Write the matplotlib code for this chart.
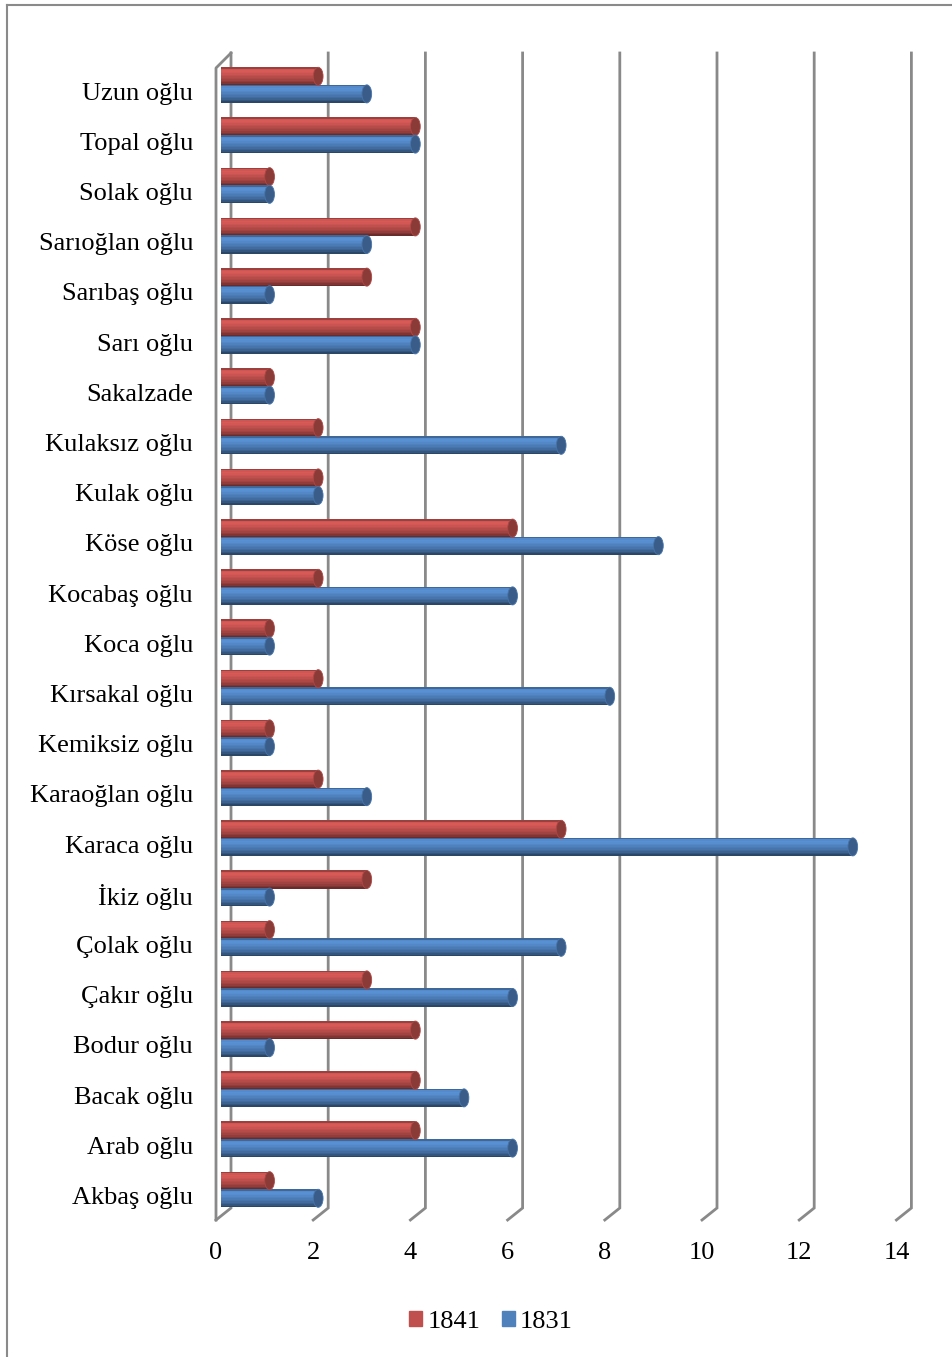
import matplotlib.pyplot as plt
import numpy as np
from matplotlib.patches import Ellipse, Patch
from matplotlib.lines import Line2D
from matplotlib.colors import to_rgb

plt.rcParams['font.family'] = ['Liberation Serif', 'DejaVu Serif']

families = ['Akbaş oğlu', 'Arab oğlu', 'Bacak oğlu', 'Bodur oğlu', 'Çakır oğlu',
            'Çolak oğlu', 'İkiz oğlu', 'Karaca oğlu', 'Karaoğlan oğlu', 'Kemiksiz oğlu',
            'Kırsakal oğlu', 'Koca oğlu', 'Kocabaş oğlu', 'Köse oğlu', 'Kulak oğlu',
            'Kulaksız oğlu', 'Sakalzade', 'Sarı oğlu', 'Sarıbaş oğlu', 'Sarıoğlan oğlu',
            'Solak oğlu', 'Topal oğlu', 'Uzun oğlu']
v1841 = [1, 4, 4, 4, 3, 1, 3, 7, 2, 1, 2, 1, 2, 6, 2, 2, 1, 4, 3, 4, 1, 4, 2]
v1831 = [2, 6, 5, 1, 6, 7, 1, 13, 3, 1, 8, 1, 6, 9, 2, 7, 1, 4, 1, 3, 1, 4, 3]
xticks = [0, 2, 4, 6, 8, 10, 12, 14]

W, H = 953, 1357
fig = plt.figure(figsize=(W / 100, H / 100), dpi=100)

# pixel layout of the plot (bar origin / scale)
X0, SX = 221, 48.6
Y0, SY = 1189.5, 50.2
left, right, top, bottom = 200, 940, 40, 1220
ax = fig.add_axes([left / W, 1 - bottom / H, (right - left) / W, (bottom - top) / H])
ax.set_xlim((left - X0) / SX, (right - X0) / SX)
ax.set_ylim((Y0 - bottom) / SY, (Y0 - top) / SY)

grid = '#898989'
bx = 10 / SX    # back wall offset
fx = -5 / SX    # front floor offset
y_front = (Y0 - 1220) / SY
y_back = (Y0 - 1208) / SY
y_top = (Y0 - 53) / SY
for t in xticks:
    ax.plot([t + fx, t + bx, t + bx], [y_front, y_back, y_top], color=grid, lw=2,
            clip_on=False, zorder=1, solid_joinstyle='miter')
ax.plot([fx, fx, bx], [y_front, (Y0 - 68) / SY, y_top], color=grid, lw=2,
        clip_on=False, zorder=1)

idx = np.arange(len(families))
h = 0.36
# shading of a cylinder, top to bottom
shade = [0.8, 1.08, 1.12, 1.1, 1.05, 1.0, 0.95, 0.9, 0.84, 0.76, 0.66, 0.55]


def cylinder(y, vals, base):
    rgb = np.array(to_rgb(base))
    n = len(shade)
    bh = h / n
    for k, f in enumerate(shade):
        c = np.clip(rgb * f, 0, 1)
        ax.barh(y + h / 2 - bh * (k + 0.5), vals, height=bh * 1.05, color=c,
                zorder=3, linewidth=0)
    for v, yy in zip(vals, y):
        ax.add_patch(Ellipse((v, yy), width=0.2, height=h,
                             facecolor=np.clip(rgb * 0.72, 0, 1),
                             edgecolor=np.clip(rgb * 0.9, 0, 1), lw=0.6, zorder=6))


cylinder(idx + 0.175, v1841, '#c0504d')
cylinder(idx - 0.175, v1831, '#4f81bd')

ax.set_yticks(idx - 0.12)
ax.set_yticklabels(families, fontsize=19)
ax.set_xticks(np.array(xticks) + fx)
ax.set_xticklabels([str(t) for t in xticks], fontsize=19)
ax.tick_params(axis='y', length=0, pad=5)
ax.tick_params(axis='x', length=0, pad=16)
for s in ax.spines.values():
    s.set_visible(False)

handles = [Patch(color='#c0504d', label='1841'), Patch(color='#4f81bd', label='1831')]
fig.legend(handles=handles, loc='center', bbox_to_anchor=(491 / W, 1 - 1322 / H), ncol=2,
           frameon=False, fontsize=19, handlelength=0.5, handleheight=0.5,
           handletextpad=0.2, columnspacing=0.8)

fig.add_artist(Line2D([6.5 / W, 6.5 / W], [0, 1 - 5 / H], transform=fig.transFigure,
                      color='#8a8a8a', lw=1.5))
fig.add_artist(Line2D([6.5 / W, 1], [1 - 5 / H, 1 - 5 / H], transform=fig.transFigure,
                      color='#8a8a8a', lw=1.5))

fig.savefig('out.png', dpi=100)
